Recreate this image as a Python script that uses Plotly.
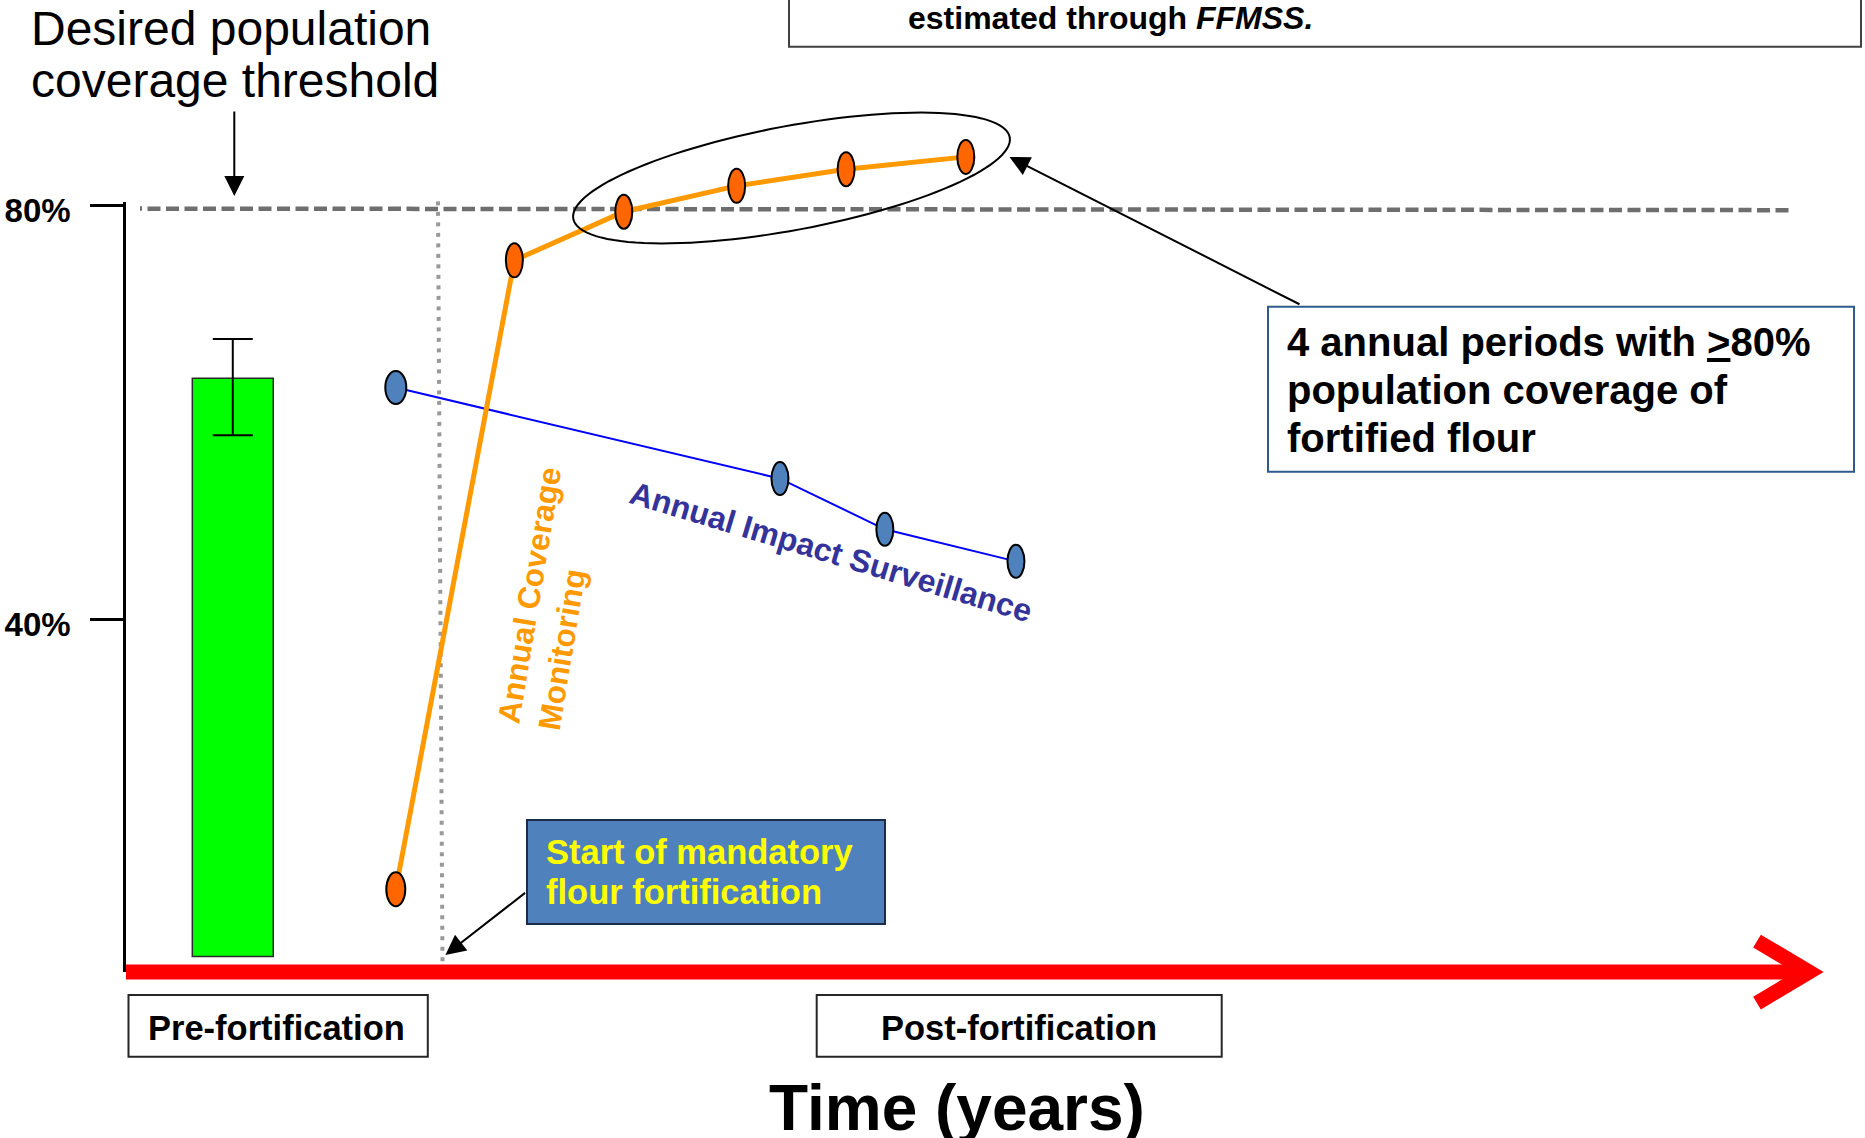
import math
import plotly.graph_objects as go

W, H = 1865, 1138

# ---------------- data ----------------
# Annual coverage monitoring (share of population reached by fortified flour, %)
years_coverage = [-0.37, 0.67, 1.63, 2.62, 3.58, 4.63]
coverage_pct = [13.9, 74.7, 79.4, 81.9, 83.5, 84.7]

# Annual impact surveillance (%)
years_impact = [-0.37, 3.00, 3.92, 5.07]
impact_pct = [62.4, 53.6, 48.7, 45.6]

# Pre-fortification baseline survey with its uncertainty
baseline_year = [-1.80]
baseline_pct = [63.3]
baseline_err_plus = [3.8]
baseline_err_minus = [5.5]

threshold_pct = 80
fortification_start = 0.0

tick_vals = [40, 80]
tick_text = ["40%", "80%"]

# ---------------- geometry ----------------
X_RANGE = [-3.842, 12.518]      # years across the full canvas
Y_RANGE = [-10.14, 99.865]      # percent across the full canvas
BAR_FLOOR = 7.4
TIME_AXIS_Y = 5.9
FONT = "Liberation Sans, Arial, sans-serif"

PX_PER_YEAR = W / (X_RANGE[1] - X_RANGE[0])
PX_PER_PCT = H / (Y_RANGE[1] - Y_RANGE[0])


def xd(px):
    """canvas pixel column -> year"""
    return X_RANGE[0] + px / PX_PER_YEAR


def yd(py):
    """canvas pixel row -> percent"""
    return Y_RANGE[1] - py / PX_PER_PCT


def pxp(px):
    return px / W


def pyp(py):
    return 1 - py / H


fig = go.Figure()

# baseline bar with error bar
fig.add_trace(go.Bar(
    x=baseline_year,
    y=[v - BAR_FLOOR for v in baseline_pct],
    base=BAR_FLOOR,
    width=0.71,
    marker=dict(color="#00FF00", line=dict(color="#2b2b2b", width=1.5)),
    error_y=dict(type="data", symmetric=False, array=baseline_err_plus,
                 arrayminus=baseline_err_minus, color="black",
                 thickness=2, width=20),
    hoverinfo="skip",
))

# impact surveillance line
fig.add_trace(go.Scatter(
    x=years_impact, y=impact_pct, mode="lines",
    line=dict(color="#0000FF", width=2), hoverinfo="skip",
))

# coverage monitoring line
fig.add_trace(go.Scatter(
    x=years_coverage, y=coverage_pct, mode="lines",
    line=dict(color="#FF9900", width=5), hoverinfo="skip",
))

# helper subplot that carries the percentage axis
fig.add_trace(go.Scatter(x=[None], y=[None], xaxis="x2", yaxis="y2",
                         hoverinfo="skip"))

shapes = []

# desired coverage threshold (dashed)
shapes.append(dict(type="line", xref="x", yref="y",
                   x0=xd(129), x1=xd(1792),
                   y0=threshold_pct - 0.3, y1=threshold_pct - 0.45,
                   line=dict(color="#6e6e6e", width=4.5, dash="13px,5.5px"),
                   layer="below"))

# start of mandatory fortification (dotted)
shapes.append(dict(type="line", xref="x", yref="y",
                   x0=fortification_start, x1=fortification_start + 0.04,
                   y0=80.4, y1=TIME_AXIS_Y + 0.3,
                   line=dict(color="#999999", width=4, dash="4px,6.5px"),
                   layer="below"))

# red time axis with open arrow head
shapes.append(dict(type="line", xref="x", yref="y",
                   x0=xd(126), x1=xd(1806), y0=TIME_AXIS_Y, y1=TIME_AXIS_Y,
                   line=dict(color="#FF0000", width=15)))
tip_x, tip_y = xd(1809), TIME_AXIS_Y
arm_x = xd(1757)
arm_dy = 31 / PX_PER_PCT
shapes.append(dict(type="path", xref="x", yref="y",
                   path=f"M{arm_x},{tip_y + arm_dy} L{tip_x},{tip_y} L{arm_x},{tip_y - arm_dy}",
                   line=dict(color="#FF0000", width=15)))

# ellipse markers on both series
impact_marker_w = [21, 17, 17, 17]
for x, y, w in zip(years_impact, impact_pct, impact_marker_w):
    shapes.append(dict(type="circle", xref="x", yref="y",
                       xsizemode="pixel", ysizemode="pixel",
                       xanchor=x, yanchor=y,
                       x0=-w / 2, x1=w / 2, y0=-16.5, y1=16.5,
                       fillcolor="#4F81BD", line=dict(color="black", width=2),
                       layer="above"))
coverage_marker_w = [19, 17, 17, 17, 17, 17]
for x, y, w in zip(years_coverage, coverage_pct, coverage_marker_w):
    shapes.append(dict(type="circle", xref="x", yref="y",
                       xsizemode="pixel", ysizemode="pixel",
                       xanchor=x, yanchor=y,
                       x0=-w / 2, x1=w / 2, y0=-17, y1=17,
                       fillcolor="#FF6600", line=dict(color="black", width=2),
                       layer="above"))

# tilted ellipse grouping the years at or above the threshold
cx, cy = xd(791.5), yd(178)
a_px, b_px, tilt = 222, 52, math.radians(10.6)
pts = []
for k in range(121):
    t = 2 * math.pi * k / 120
    dx = a_px * math.cos(t) * math.cos(tilt) - b_px * math.sin(t) * math.sin(tilt)
    dy = a_px * math.cos(t) * math.sin(tilt) + b_px * math.sin(t) * math.cos(tilt)
    pts.append((cx + dx / PX_PER_YEAR, cy + dy / PX_PER_PCT))
path = "M" + " L".join(f"{x:.4f},{y:.4f}" for x, y in pts) + " Z"
shapes.append(dict(type="path", xref="x", yref="y", path=path,
                   line=dict(color="black", width=2), layer="above"))


def box(x0, y0, x1, y1, border, fill="white", width=2):
    return dict(type="rect", xref="paper", yref="paper",
                x0=pxp(x0), x1=pxp(x1), y0=pyp(y1), y1=pyp(y0),
                fillcolor=fill, line=dict(color=border, width=width),
                layer="above")


shapes.append(box(789, -10, 1861, 46.7, "#404040"))
shapes.append(box(1268, 306.7, 1854, 471.7, "#2F5A8C"))
shapes.append(box(527, 820, 885, 924, "#1c2b47", fill="#4F81BD"))
shapes.append(box(128.5, 995, 427.8, 1056.7, "#262626"))
shapes.append(box(816.7, 995, 1221.7, 1056.7, "#262626"))

annotations = []


def label(text, x, y, size, color="black", xanchor="center", angle=0,
          align="center"):
    annotations.append(dict(
        text=text, x=pxp(x), y=pyp(y), xref="paper", yref="paper",
        xanchor=xanchor, yanchor="middle", showarrow=False,
        textangle=angle, align=align,
        font=dict(family=FONT, size=size, color=color)))


def arrow(tip, tail, size=2.0):
    annotations.append(dict(
        text="", x=pxp(tip[0]), y=pyp(tip[1]), xref="paper", yref="paper",
        ax=tail[0] - tip[0], ay=tail[1] - tip[1],
        showarrow=True, arrowhead=2, arrowsize=size, arrowwidth=2,
        arrowcolor="black", standoff=0))


# heading at the top left
label("Desired population", 29, 29, 48, xanchor="left")
label("coverage threshold", 29, 80.4, 48, xanchor="left")
arrow((234.3, 196), (234.3, 110))

# partially visible note at the top
label("<b>estimated through <i>FFMSS.</i></b>", 906, 18, 32, xanchor="left")

# call-out box
label("<b>4 annual periods with <u>&gt;</u>80%</b>", 1285, 342.5, 40, xanchor="left")
label("<b>population coverage of</b>", 1285, 389.8, 40, xanchor="left")
label("<b>fortified flour</b>", 1285, 438.2, 40, xanchor="left")
arrow((1009.5, 157), (1301, 305))

# start of fortification box
label("<b>Start of mandatory</b>", 544, 851.5, 34.5, color="#FFFF00", xanchor="left")
label("<b>flour fortification</b>", 544, 892.2, 34.5, color="#FFFF00", xanchor="left")
arrow((445.4, 955), (526.6, 891.7))

# series labels
label("<b>Annual Impact Surveillance</b>", 831, 552, 32, color="#333399",
      angle=16.7)
label("<b>Annual Coverage<br>Monitoring</b>", 549, 599, 31.5, color="#FF9900",
      angle=-80.6, align="left")

# period labels and time axis title
label("<b>Pre-fortification</b>", 276, 1027.5, 34.5)
label("<b>Post-fortification</b>", 1019, 1027.5, 34.5)
label("<b>Time (years)</b>", 957, 1108, 64)

fig.update_layout(
    width=W, height=H, autosize=False,
    margin=dict(l=0, r=0, t=0, b=0, pad=0, autoexpand=False),
    paper_bgcolor="white", plot_bgcolor="white",
    showlegend=False,
    shapes=shapes, annotations=annotations,
    xaxis=dict(range=X_RANGE, visible=False, fixedrange=True),
    yaxis=dict(range=Y_RANGE, visible=False, fixedrange=True),
    xaxis2=dict(domain=[126 / W, 140 / W], range=[0, 1], visible=False,
                anchor="y2", fixedrange=True),
    yaxis2=dict(domain=[1 - 972 / H, 1 - 201.7 / H],
                range=[TIME_AXIS_Y, 80.4], anchor="x2",
                showline=True, linecolor="black", linewidth=2.5,
                showgrid=False, zeroline=False, automargin=False,
                ticks="outside", ticklen=33, tickwidth=2.5, tickcolor="black",
                tickvals=tick_vals, ticktext=[f"<b>{t}</b>" for t in tick_text],
                tickfont=dict(family=FONT, size=33, color="black"),
                ticklabelstandoff=13, ticklabelshift=5, fixedrange=True),
)

fig.write_html("out.html", config={"displayModeBar": False})
